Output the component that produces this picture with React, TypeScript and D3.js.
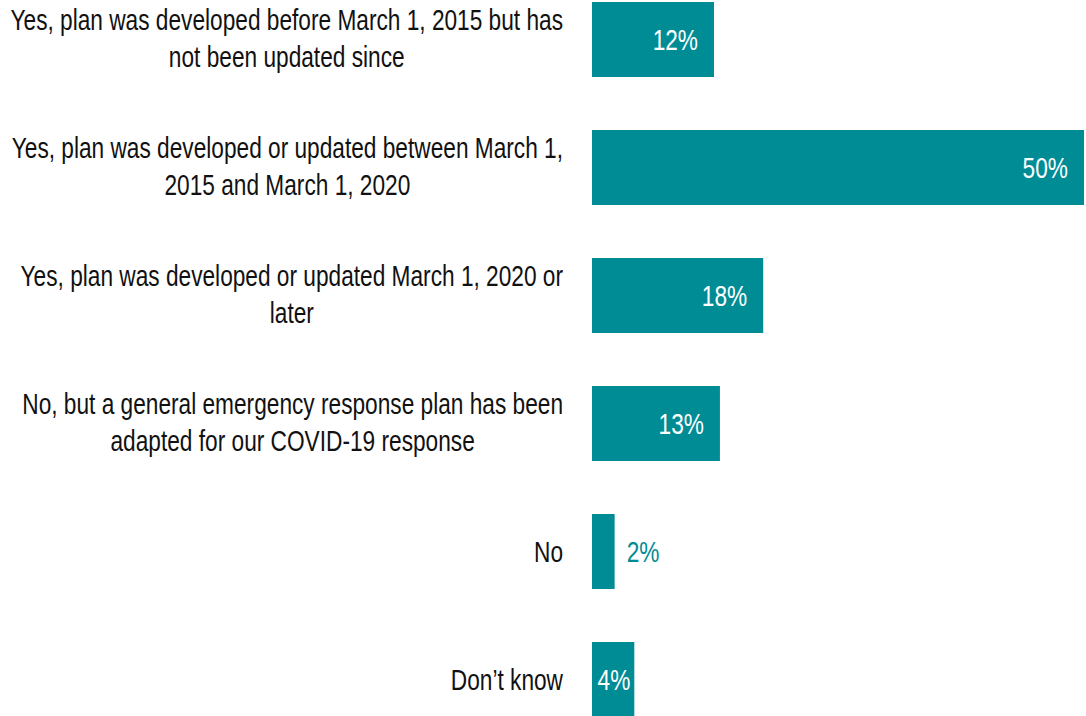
import React, { useEffect, useRef } from "react";
import * as d3 from "d3";

const categories: string[][] = [
  ["Yes, plan was developed before March 1, 2015 but has", "not been updated since"],
  ["Yes, plan was developed or updated between March 1,", "2015 and March 1, 2020"],
  ["Yes, plan was developed or updated March 1, 2020 or", "later"],
  ["No, but a general emergency response plan has been", "adapted for our COVID-19 response"],
  ["No"],
  ["Don\u2019t know"],
];
const values: number[] = [12.4, 50, 17.4, 13, 2.3, 4.3];
const valueLabels: string[] = ["12%", "50%", "18%", "13%", "2%", "4%"];

const W = 1086;
const H = 716;
const TEAL = "#008C95";
const FONT = "'Liberation Sans', Arial, sans-serif";
const LABEL_RIGHT = 563;
const TARGET_FIRST_WIDTH = 553;

export default function App() {
  const ref = useRef<SVGSVGElement>(null);
  useEffect(() => {
    const svg = d3.select(ref.current);
    svg.selectAll("*").remove();
    const x = d3.scaleLinear().domain([0, 50]).range([592, 1084]);
    const y = d3
      .scaleBand<number>()
      .domain(d3.range(values.length))
      .range([2, 717])
      .paddingInner(0.4141)
      .paddingOuter(0);

    const g = svg.append("g").attr("font-family", FONT).attr("font-size", 29);

    // measure to derive horizontal condensing factor
    const probe = g.append("text").text(categories[0][0]);
    const probeLen = (probe.node() as SVGTextElement).getComputedTextLength();
    probe.remove();
    const k = TARGET_FIRST_WIDTH / probeLen;

    const addText = (
      tx: number,
      ty: number,
      s: string,
      anchor: string,
      fill: string
    ) => {
      const tg = g.append("g").attr("transform", `translate(${tx},${ty}) scale(${k},1)`);
      return tg
        .append("text")
        .attr("x", 0)
        .attr("y", 0)
        .attr("dy", "0.36em")
        .attr("text-anchor", anchor)
        .attr("fill", fill)
        .text(s);
    };

    values.forEach((v, i) => {
      const y0 = y(i)!;
      const bw = y.bandwidth();
      const cy = y0 + bw / 2;
      const wBar = x(v) - x(0);
      g.append("rect")
        .attr("x", x(0))
        .attr("y", y0)
        .attr("width", wBar)
        .attr("height", bw)
        .attr("fill", TEAL);
      const inside = wBar >= 40;
      const pad = wBar > 80 ? 16 : 4;
      addText(
        inside ? x(v) - pad : x(v) + 12,
        cy,
        valueLabels[i],
        inside ? "end" : "start",
        inside ? "#fff" : TEAL
      );

      const lines = categories[i];
      const lh = 37;
      const top = cy - ((lines.length - 1) * lh) / 2 - (lines.length > 1 ? 1 : 0);
      const first = addText(LABEL_RIGHT, top, lines[0], "end", "#111");
      if (lines.length > 1) {
        const len = (first.node() as SVGTextElement).getComputedTextLength() * k;
        const cx = LABEL_RIGHT - len / 2;
        for (let j = 1; j < lines.length; j++) {
          addText(cx, top + j * lh, lines[j], "middle", "#111");
        }
      }
    });
  }, []);
  return (
    <svg
      ref={ref}
      width={W}
      height={H}
      style={{ position: "absolute", left: 0, top: 0, display: "block", background: "#fff" }}
    />
  );
}
